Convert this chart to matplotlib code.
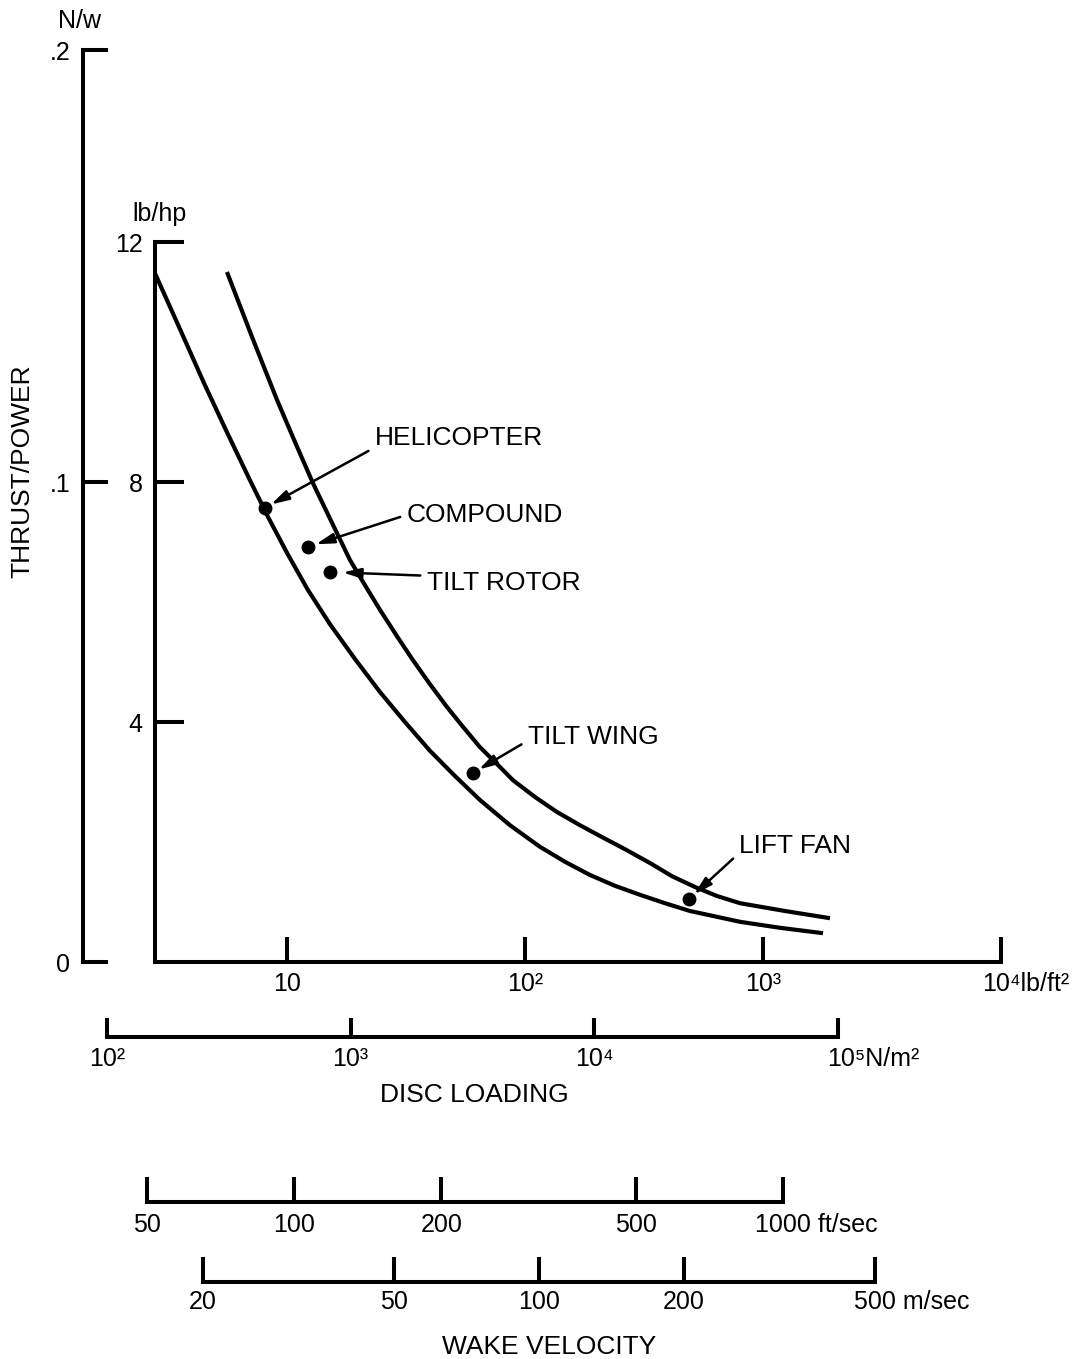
import matplotlib.pyplot as plt
from matplotlib.ticker import FixedLocator, FixedFormatter, NullLocator

plt.rcParams['font.family'] = ['Liberation Sans', 'DejaVu Sans']
plt.rcParams['font.size'] = 18

W, H = 1075, 1359

# disc loading (lb/ft2) vs thrust/power (lb/hp)
lower_dl = [2.788, 3.551, 4.480, 5.596, 6.991, 8.322, 10.0, 12.25, 15.16,
            19.31, 24.59, 31.31, 39.89, 50.80, 64.70, 86.48, 115.6, 147.3,
            187.6, 238.9, 304.2, 387.5, 493.5, 800.6, 1179, 1787]
lower_tp = [11.48, 10.55, 9.65, 8.83, 8.03, 7.42, 6.82, 6.20, 5.63,
            5.05, 4.50, 4.00, 3.52, 3.10, 2.70, 2.28, 1.92, 1.67,
            1.45, 1.27, 1.12, 0.98, 0.85, 0.67, 0.57, 0.48]
upper_dl = [5.596, 7.128, 9.079, 10.80, 12.86, 15.46, 18.40, 21.27, 24.59,
            28.99, 33.84, 39.89, 47.02, 54.89, 64.70, 76.27, 89.03, 110.2,
            136.3, 170.2, 206.6, 263.2, 335.1, 414.6, 518.0, 640.8, 800.6,
            1237, 1912]
upper_tp = [11.50, 10.42, 9.37, 8.67, 7.98, 7.32, 6.70, 6.28, 5.87,
            5.43, 5.03, 4.63, 4.25, 3.92, 3.58, 3.30, 3.03, 2.75,
            2.50, 2.28, 2.10, 1.88, 1.65, 1.43, 1.25, 1.10, 0.98,
            0.85, 0.73]

# aircraft types
aircraft = ['HELICOPTER', 'COMPOUND', 'TILT ROTOR', 'TILT WING', 'LIFT FAN']
aircraft_dl = [8.08, 12.25, 15.2, 60.4, 489]
aircraft_tp = [7.57, 6.92, 6.50, 3.15, 1.05]
# label offset from the dot, in pixels (dx, dy) and arrow start on the label
label_off = [(110, 70), (99, 32), (97, -11), (55, 36), (50, 53)]
arrow_rel = [(0, 0.1), (0, 0.5), (0, 0.8), (0, 0.35), (0, 0.2)]
arrow_shrink = [5, 6, 9, 5, 5]

# axes ticks / labels
lbhp_ticks = [4, 8, 12]
lbhp_labels = ['4', '8', '12']
nw_ticks = [0, 0.1, 0.19]
nw_labels = ['0', '.1', '.2']
lbft_ticks = [10, 100, 1000, 10000]
lbft_labels = ['10', '10²', '10³', '']
nm_ticks = [100, 1000, 10000, 100000]
nm_labels = ['10²', '10³', '10⁴', '']
fts_ticks = [50, 100, 200, 500, 1000]
fts_labels = ['50', '100', '200', '500', '']
ms_ticks = [20, 50, 100, 200, 500]
ms_labels = ['20', '50', '100', '200', '']

LW = 2.9
TS = 18   # tick label size
LS = 19   # label size


def box(x0, y0, x1, y1):
    # pixel box, top-left origin -> figure fraction
    return [x0 / W, 1 - y1 / H, (x1 - x0) / W, (y1 - y0) / H]


def scale_axis(rect, lim, ticks, labels, ticklen, pad, unit, dx):
    ax = fig.add_axes(rect)
    ax.set_xscale('log')
    ax.set_xlim(lim)
    for s in ['top', 'left', 'right']:
        ax.spines[s].set_visible(False)
    ax.spines['bottom'].set_linewidth(LW)
    ax.spines['bottom'].set_capstyle('projecting')
    ax.yaxis.set_major_locator(NullLocator())
    ax.xaxis.set_major_locator(FixedLocator(ticks))
    ax.xaxis.set_minor_locator(NullLocator())
    ax.xaxis.set_major_formatter(FixedFormatter(labels))
    ax.tick_params(axis='x', direction='in', length=ticklen, width=LW,
                   pad=pad, labelsize=TS)
    ax.patch.set_visible(False)
    ax.annotate(unit, xy=(lim[1], 0), xycoords=('data', 'axes fraction'),
                xytext=(dx, -pad * 100 / 72), textcoords='offset pixels',
                ha='left', va='top', fontsize=TS)
    return ax


fig = plt.figure(figsize=(W / 100, H / 100), dpi=100)

# main plot
ax = fig.add_axes(box(155, 242, 1001, 962))
ax.set_xscale('log')
ax.set_xlim(2.79, 1e4)
ax.set_ylim(0, 12)
ax.spines['top'].set_visible(False)
ax.spines['right'].set_visible(False)
for s in ['left', 'bottom']:
    ax.spines[s].set_linewidth(LW)
    ax.spines[s].set_capstyle('projecting')
ax.xaxis.set_major_locator(FixedLocator(lbft_ticks))
ax.xaxis.set_minor_locator(NullLocator())
ax.xaxis.set_major_formatter(FixedFormatter(lbft_labels))
ax.yaxis.set_major_locator(FixedLocator(lbhp_ticks))
ax.yaxis.set_major_formatter(FixedFormatter(lbhp_labels))
ax.tick_params(axis='x', direction='in', length=18, width=LW, pad=7,
               labelsize=TS)
ax.tick_params(axis='y', direction='in', length=21, width=LW, pad=9,
               labelsize=TS)
ax.patch.set_visible(False)

ax.plot(lower_dl, lower_tp, color='black', lw=3, solid_capstyle='butt',
        solid_joinstyle='round')
ax.plot(upper_dl, upper_tp, color='black', lw=3, solid_capstyle='butt',
        solid_joinstyle='round')
ax.plot(aircraft_dl, aircraft_tp, 'o', color='black', ms=9)

for name, x, y, off, rel, sh in zip(aircraft, aircraft_dl, aircraft_tp,
                                    label_off, arrow_rel, arrow_shrink):
    ax.annotate(name, xy=(x, y), xytext=off, textcoords='offset pixels',
                ha='left', va='center', fontsize=LS,
                arrowprops=dict(arrowstyle='-|>,head_length=0.9,head_width=0.25',
                                mutation_scale=12, color='black', lw=1.8,
                                shrinkA=3, shrinkB=sh, relpos=rel))

ax.annotate('10⁴lb/ft²', xy=(1e4, 0), xycoords=('data', 'axes fraction'),
            xytext=(-19, -7 * 100 / 72), textcoords='offset pixels',
            ha='left', va='top', fontsize=TS)
fig.text(160 / W, 1 - 214 / H, 'lb/hp', ha='center', va='center',
         fontsize=TS)

# N/w axis
ax2 = fig.add_axes(box(83, 50, 84, 962))
ax2.set_ylim(0, 0.19)
for s in ['top', 'bottom', 'right']:
    ax2.spines[s].set_visible(False)
ax2.spines['left'].set_linewidth(LW)
ax2.spines['left'].set_capstyle('projecting')
ax2.xaxis.set_major_locator(NullLocator())
ax2.yaxis.set_major_locator(FixedLocator(nw_ticks))
ax2.yaxis.set_major_formatter(FixedFormatter(nw_labels))
ax2.tick_params(axis='y', direction='in', length=18, width=LW, pad=9,
                labelsize=TS)
ax2.patch.set_visible(False)
fig.text(79 / W, 1 - 21 / H, 'N/w', ha='center', va='center', fontsize=TS)

fig.text(22 / W, 1 - 471 / H, 'THRUST/POWER', rotation=90,
         ha='center', va='center', fontsize=LS)

# disc loading in N/m2
scale_axis(box(107, 1036, 838, 1037), (100, 100000), nm_ticks, nm_labels,
           14, 7, '10⁵N/m²', -11)
fig.text(474 / W, 1 - 1095 / H, 'DISC LOADING', ha='center', va='center',
         fontsize=LS)

# wake velocity
scale_axis(box(147, 1201, 783, 1202), (50, 1000), fts_ticks, fts_labels,
           18, 8, '1000 ft/sec', -28)
scale_axis(box(203, 1281, 875, 1282), (20, 500), ms_ticks, ms_labels,
           18, 6, '500 m/sec', -21)
fig.text(549 / W, 1 - 1347 / H, 'WAKE VELOCITY', ha='center', va='center',
         fontsize=LS)

fig.savefig('out.png', dpi=100)
